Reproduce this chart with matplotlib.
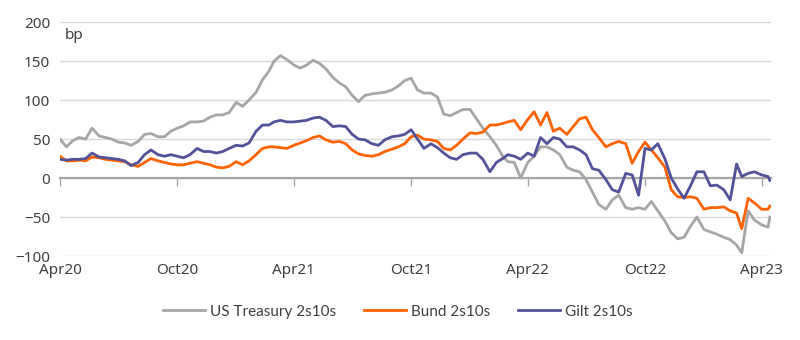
import matplotlib.pyplot as plt
import matplotlib.dates as mdates
import pandas as pd

# sampled on the 1st, 11th and 21st of each month, Apr 2020 - Apr 2023
months = pd.date_range('2020-04-01', '2023-03-01', freq='MS')
dates = [m + pd.Timedelta(days=d) for m in months for d in (0, 10, 20)]
dates += [pd.Timestamp('2023-04-01'), pd.Timestamp('2023-04-11'), pd.Timestamp('2023-04-14')]

ust = [
    50, 40, 48, 52, 50, 64, 54, 52, 50, 46, 45, 42, 47, 56, 57, 53, 53, 60,
    64, 67, 72, 72, 73, 78, 81, 81, 84,
    97, 92, 100, 110, 126, 137, 150, 157, 152, 145, 141, 145, 151, 147, 140,
    129, 122, 117, 106, 98, 106, 108, 109, 110, 113, 118, 125, 128, 113, 109,
    109, 104, 82, 80, 84, 88,
    88, 76, 64, 53, 42, 28, 21, 20, 0, 20, 28, 40, 40, 36, 30, 14, 10, 8,
    -2, -18, -34, -40, -28, -22, -38, -40, -38, -40, -30, -42, -55, -70, -78,
    -76, -62, -50,
    -66, -69, -72, -76, -79, -86, -96, -42, -54, -60, -63, -50,
]
bund = [
    28, 22, 22, 23, 22, 27, 26, 24, 23, 22, 21, 17, 15, 20, 25, 22, 20, 18,
    17, 17, 19, 21, 19, 17, 14, 13, 15,
    21, 17, 22, 30, 38, 40, 40, 39, 38, 42, 45, 48, 52, 54, 49, 46, 47, 44,
    36, 31, 29, 28, 30, 34, 37, 40, 44, 53, 55, 50, 49, 47, 38, 36, 42, 50,
    58, 57, 59, 68, 68, 70, 72, 74, 62, 75, 85, 68, 84, 60, 64, 56, 66, 76,
    78, 62, 52, 40, 44, 47, 44, 19, 34, 46, 36, 26, 14, -15, -24, -25, -24, -26,
    -40, -38, -38, -37, -42, -45, -65, -26, -32, -40, -40, -36,
]
gilt = [
    24, 23, 24, 24, 25, 32, 27, 26, 25, 24, 22, 16, 20, 30, 36, 30, 28, 30,
    28, 26, 30, 38, 34, 34, 32, 34, 38,
    42, 41, 45, 60, 68, 68, 72, 74, 72, 72, 73, 74, 77, 78, 74, 66, 67, 66,
    56, 50, 49, 44, 42, 49, 53, 54, 56, 62, 50, 38, 44, 39, 32, 26, 24, 30,
    32, 32, 24, 8, 20, 25, 30, 28, 24, 32, 28, 52, 44, 52, 50, 40, 40, 36,
    30, 12, 10, -2, -15, -18, 6, 4, -22, 38, 36, 44, 25, 0, -14, -26, -10, 8,
    8, -10, -9, -15, -28, 18, 2, 6, 8, 4, 2, -3,
]
series_names = ['US Treasury 2s10s', 'Bund 2s10s', 'Gilt 2s10s']
colors = ['#a6a6a6', '#ff6200', '#525199']
tick_dates = pd.date_range('2020-04-01', '2023-04-01', freq='6MS')
tick_labels = [d.strftime('%b%y') for d in tick_dates]

plt.rcParams['font.family'] = ['Noto Sans', 'DejaVu Sans']
txt = '#404040'

fig = plt.figure(figsize=(8, 3.4), dpi=100)
ax = fig.add_axes([0.075, 0.247, 0.889, 0.688])

for vals, name, c in zip([ust, bund, gilt], series_names, colors):
    ax.plot(dates, vals, color=c, lw=2.0, label=name, solid_joinstyle='round')

ax.set_ylim(-100, 200)
ax.set_yticks(range(-100, 201, 50))
ax.set_xlim(pd.Timestamp('2020-04-01'), pd.Timestamp('2023-04-16'))
ax.grid(axis='y', color='#d9d9d9', lw=1)
ax.set_axisbelow(True)
ax.tick_params(axis='y', length=0, pad=7, labelsize=11, labelcolor=txt)

for s in ['left', 'right', 'top']:
    ax.spines[s].set_visible(False)
ax.spines['bottom'].set_position(('data', 0))
ax.spines['bottom'].set_color('#a6a6a6')
ax.spines['bottom'].set_linewidth(1.6)
ax.spines['bottom'].set_zorder(1)
ax.set_xticks(tick_dates)
ax.tick_params(axis='x', direction='out', length=6, width=1, color='#a6a6a6', labelbottom=False)

sec = ax.secondary_xaxis('bottom')
sec.set_xticks(tick_dates)
sec.set_xticklabels(tick_labels)
sec.tick_params(length=0, pad=5, labelsize=11, labelcolor=txt)
sec.spines['bottom'].set_visible(False)

ax.text(0.006, 0.975, 'bp', transform=ax.transAxes, ha='left', va='top',
        fontsize=11, color=txt)

fig.legend(loc='center', bbox_to_anchor=(0.497, 0.083), ncol=3, frameon=False,
           prop={'family': ['Lato', 'DejaVu Sans'], 'size': 11},
           handlelength=2.75, columnspacing=1.8, handletextpad=0.35,
           labelcolor=txt)

fig.savefig('out.png', dpi=100)
